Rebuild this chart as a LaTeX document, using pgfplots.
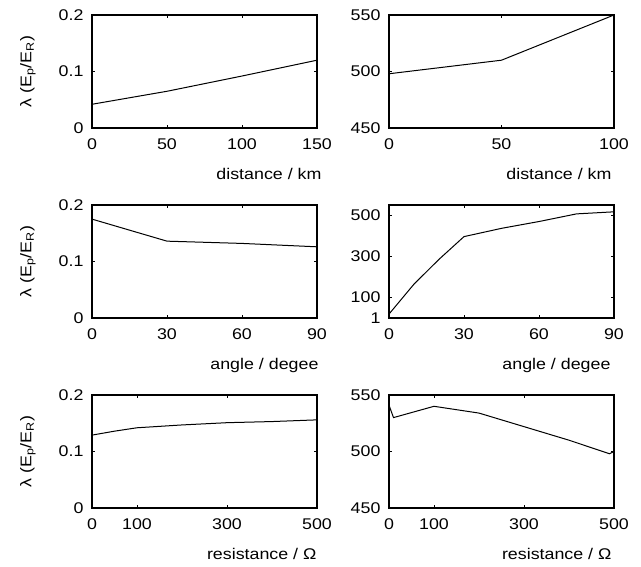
\documentclass[border=0pt]{standalone}
\usepackage{pgfplots}
\pgfplotsset{compat=1.18}
\usepackage{fontspec}
\setmainfont[FakeStretch=1.15]{Liberation Sans}

\pgfplotsset{
  panel/.style={
    scale only axis,
    width=225pt, height=113pt,
    axis line style={line width=1.1pt},
    tick align=inside,
    major tick length=3pt,
    tick style={line width=0.8pt, black},
    /pgf/number format/assume math mode=true,
    tick label style={font=\fontsize{15.5}{17}\selectfont},
    xticklabel style={yshift=-7pt},
    yticklabel style={xshift=-5pt},
    label style={font=\fontsize{15.5}{17}\selectfont},
    xlabel style={at={(rel axis cs:1,0)}, anchor=north east, yshift=-37pt},
    scaled ticks=false,
  },
  lam/.style={
    ylabel={λ (E\textsubscript{p}/E\textsubscript{R})},
    ylabel style={at={(rel axis cs:-0.285,0.5)}, anchor=center},
  },
  curve/.style={black, line width=1pt, mark=none},
}

\begin{document}
\begin{tikzpicture}[x=1pt,y=1pt]
\useasboundingbox (0,0) rectangle (641,566);

% top row: distance
\begin{axis}[panel, lam, at={(92pt,438pt)}, anchor=south west,
  xmin=0, xmax=150, ymin=0, ymax=0.2,
  xtick={0,50,100,150}, ytick={0,0.1,0.2},
  xlabel={distance / km}, xlabel style={xshift=8pt}]
  \addplot[curve] coordinates {(0,0.042)(50,0.065)(100,0.092)(150,0.120)};
\end{axis}

\begin{axis}[panel, at={(389pt,438pt)}, anchor=south west,
  xmin=0, xmax=100, ymin=450, ymax=550,
  xtick={0,50,100}, ytick={450,500,550},
  xlabel={distance / km}, xlabel style={xshift=1pt}]
  \addplot[curve] coordinates {(0,498)(50,510)(100,550)};
\end{axis}

% middle row: angle
\begin{axis}[panel, lam, at={(92pt,248pt)}, anchor=south west,
  xmin=0, xmax=90, ymin=0, ymax=0.2,
  xtick={0,30,60,90}, ytick={0,0.1,0.2},
  xlabel={angle / degee}, xlabel style={xshift=5pt}]
  \addplot[curve] coordinates {(0,0.175)(30,0.136)(60,0.132)(90,0.126)};
\end{axis}

\begin{axis}[panel, at={(389pt,248pt)}, anchor=south west,
  xmin=0, xmax=90, ymin=1, ymax=548,
  xtick={0,30,60,90}, ytick={1,100,300,500},
  xlabel={angle / degee}, xlabel style={xshift=0pt}]
  \addplot[curve] coordinates {(0,20)(10,165)(20,285)(30,395)(45,435)(60,468)(75,505)(90,515)};
\end{axis}

% bottom row: resistance
\begin{axis}[panel, lam, at={(92pt,58pt)}, anchor=south west,
  xmin=0, xmax=500, ymin=0, ymax=0.2,
  xtick={0,100,300,500}, ytick={0,0.1,0.2},
  xlabel={resistance / Ω}, xlabel style={xshift=3pt}]
  \addplot[curve] coordinates {(0,0.129)(50,0.136)(100,0.142)(200,0.147)(300,0.151)(400,0.153)(500,0.156)};
\end{axis}

\begin{axis}[panel, at={(389pt,58pt)}, anchor=south west,
  xmin=0, xmax=500, ymin=450, ymax=550,
  xtick={0,100,300,500}, ytick={450,500,550},
  xlabel={resistance / Ω}, xlabel style={xshift=1pt}]
  \addplot[curve] coordinates {(0,541)(10,530)(100,540)(200,534)(300,522)(400,510)(490,498)(500,500)};
\end{axis}
\end{tikzpicture}
\end{document}
